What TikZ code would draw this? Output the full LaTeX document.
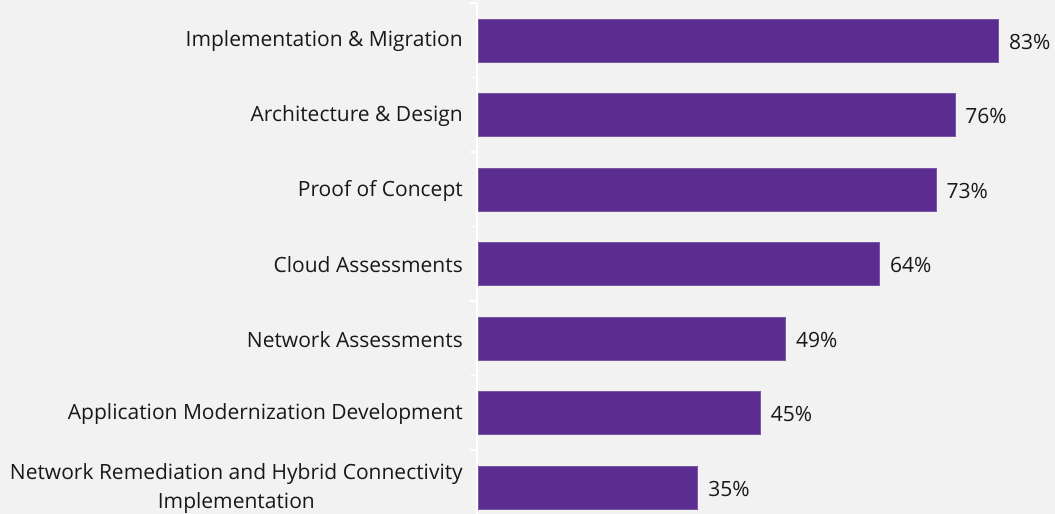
\documentclass[tikz,border=0pt]{standalone}
\usepackage{fontspec}
\setmainfont{Open Sans}
\usetikzlibrary{positioning}
\definecolor{chartbg}{HTML}{F2F2F2}
\definecolor{barpurple}{HTML}{5C2D91}

\begin{document}
\begin{tikzpicture}[x=1pt,y=-1pt,
  bar/.style={fill=barpurple, draw=barpurple!80!white, line width=0.6pt, minimum height=43pt, inner sep=0pt, anchor=west},
  cat/.style={align=center, font=\fontsize{21}{29}\selectfont, text=black!90, inner sep=0pt},
  val/.style={font=\fontsize{21}{24}\selectfont, text=black!90, inner sep=0pt}]
  \fill[chartbg] (0,0) rectangle (1055,514);
  \useasboundingbox (0,0) rectangle (1055,514);
  % axis and category ticks
  \draw[white, line width=1.5pt] (477,3) -- (477,514);
  \foreach \k in {0,...,6} \draw[white, line width=1.5pt] (470,{3+74.5*\k}) -- (477,{3+74.5*\k});
  % bars
  \foreach \v/\txt [count=\i] in {83/{Implementation \& Migration},
      76/{Architecture \& Design}, 73/{Proof of Concept}, 64/{Cloud Assessments},
      49/{Network Assessments}, 45/{Application Modernization Development},
      35/{Network Remediation and Hybrid Connectivity\\Implementation}} {
    \node[bar, minimum width={6.27pt*\v}] (bar\i) at (478,{40.5+74.5*(\i-1)}) {};
    \node[val, right=10pt of bar\i, yshift=-1pt] (val\i) {\v\%};
    \node[cat, left=15pt of bar\i.west, yshift=-1pt] (cat\i) {\txt};
  }
\end{tikzpicture}
\end{document}
